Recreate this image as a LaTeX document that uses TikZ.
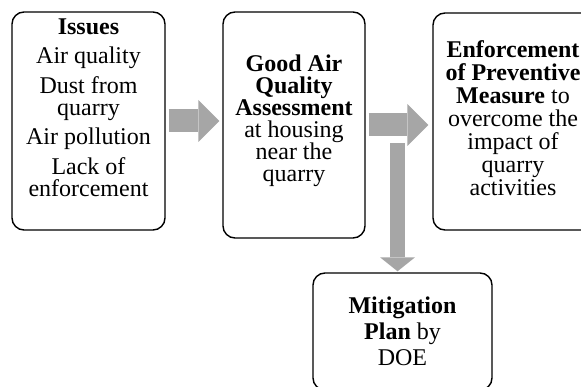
\documentclass[tikz,border=0pt]{standalone}
\usepackage{fontspec}
\setmainfont{Liberation Serif}
\usepackage{tikz}
\usetikzlibrary{arrows.meta}
\tikzset{box/.style={draw, line width=1.4pt, rounded corners=12pt, align=center, inner sep=0pt,
    font=\fontsize{24}{22}\selectfont}}
\tikzset{bigarrow/.style={draw=black!35, line width=23pt,
    -{Triangle[length=21pt, width=42pt, line width=0pt]}}}
% extra room under the last line, lifts the text in its box
\newcommand{\lift}[1]{\rule[-#1pt]{0pt}{#1pt}}

\begin{document}
\begin{tikzpicture}[x=1pt, y=-1pt]
      \clip (0,0) rectangle (581,387);
      \node (issues) at (88.5,121) [box, minimum width=153, minimum height=218]
        {\textbf{Issues}\\[7pt] Air quality\\[7pt] Dust from\\ quarry\\[7pt] Air pollution\\[7pt] Lack of\\ enforcement\lift{26}};
      \node (quality) at (294,125) [box, minimum width=142, minimum height=226]
        {\textbf{Good Air}\\ \textbf{Quality}\\ \textbf{Assessment}\\ at housing\\ near the\\ quarry\lift{14}};
      \node (prevent) at (513,121.5) [box, minimum width=160, minimum height=217,
        font=\fontsize{24}{23}\selectfont]
        {\textbf{Enforcement}\\ \textbf{of Preventive}\\ \textbf{Measure} to\\ overcome the\\ impact of\\ quarry\\ activities\lift{6}};
      \node (mitig) at (402.5,331.5) [box, minimum width=179, minimum height=117,
        font=\fontsize{24}{26}\selectfont]
        {\textbf{Mitigation}\\ \textbf{Plan} by\\ DOE};
      \coordinate (split) at (397.5,143);
      \draw [bigarrow, shorten <=3pt, shorten >=3pt] (issues.east) -- (issues.east -| quality.west);
      \draw [bigarrow, shorten <=3pt, shorten >=4pt] (quality.east) -- (quality.east -| prevent.west);
      \draw [bigarrow, line width=15pt, -{Triangle[length=14pt, width=35pt, line width=0pt]},
        shorten >=1pt] (split) -- (split |- mitig.north);
    \end{tikzpicture}
\end{document}
